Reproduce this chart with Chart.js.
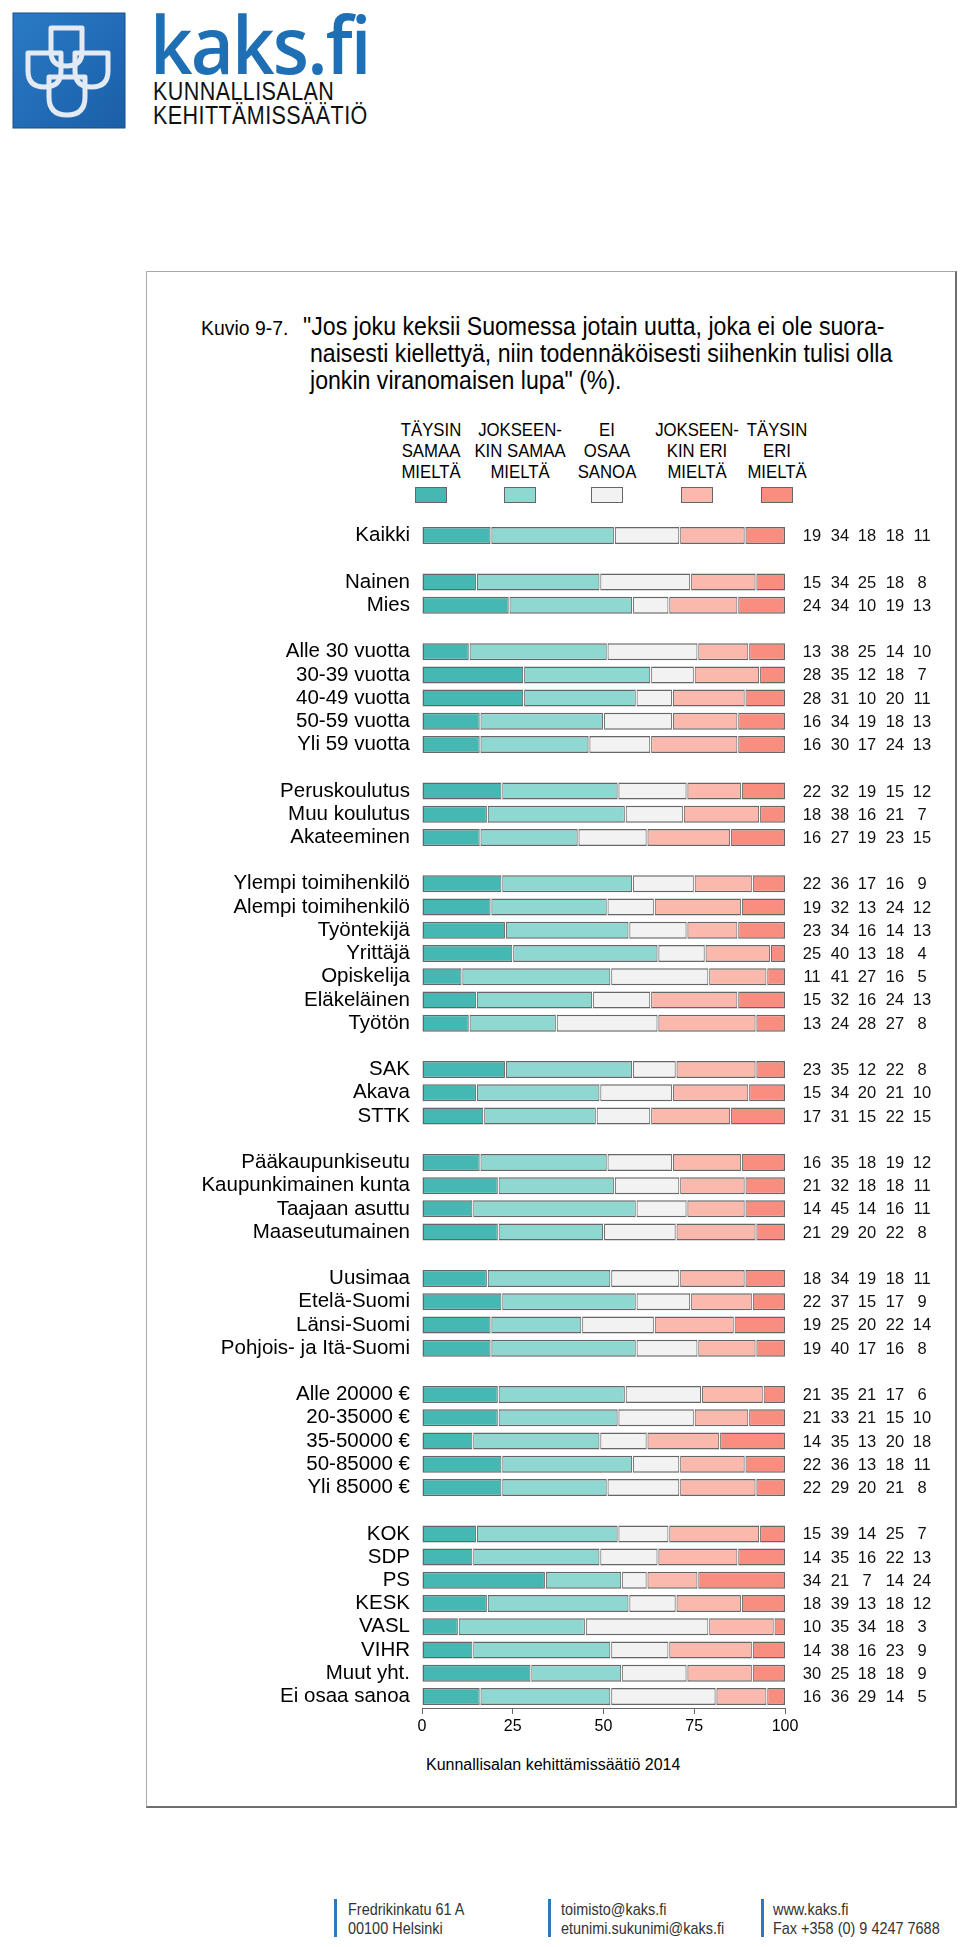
<!DOCTYPE html>
<html>
<head>
<meta charset="utf-8">
<script src="https://cdn.jsdelivr.net/npm/chart.js@4.4.0/dist/chart.umd.min.js"></script>
<style>
  body { margin: 0; width: 960px; height: 1947px; background: #fff; position: relative; overflow: hidden;
         font-family: "Liberation Sans", Arial, sans-serif; color: #000; }
  .abs { position: absolute; white-space: nowrap; }
  .sq { transform-origin: 0 50%; }
  #frame { position: absolute; left: 146px; top: 271px; width: 808px; height: 1534px;
           border: 1px solid #a8a8a8; border-right: 2px solid #6e6e6e; border-bottom: 2px solid #6e6e6e; }
  .title { font-size: 25px; line-height: 25px; transform: scaleX(0.925); }
  .legtxt { width: 120px; text-align: center; font-size: 18px; line-height: 21px; top: 420px;
            transform: scaleX(0.93); transform-origin: 50% 50%; }
  .swatch { width: 30px; height: 14px; top: 487px; border: 1px solid #666; }
  .foot { font-size: 17px; line-height: 19px; color: #333; top: 1900px; transform: scaleX(0.85); }
  .fbar { width: 3px; height: 38px; top: 1899px; background: #2f78b9; }
  #chart { position: absolute; left: 150px; top: 510px; }
</style>
</head>
<body>

<!-- logo -->
<svg class="abs" style="left:0;top:0" width="150" height="140">
  <defs>
    <linearGradient id="lg" x1="0" y1="0" x2="1" y2="1">
      <stop offset="0" stop-color="#2a7bc4"/>
      <stop offset="1" stop-color="#1a5fa8"/>
    </linearGradient>
  </defs>
  <rect x="13" y="13" width="112" height="115" fill="url(#lg)" stroke="#1b4f86" stroke-width="1"/>
  <g fill="none" stroke="#e3eaf3" stroke-width="5" stroke-linejoin="round">
    <path d="M51,28 H82 V52 Q82,66 66.5,66 Q51,66 51,52 Z"/>
    <path d="M28,53 H61 V71 Q61,87 44.5,87 Q28,87 28,71 Z"/>
    <path d="M75,53 H108 V71 Q108,87 91.5,87 Q75,87 75,71 Z"/>
    <path d="M49,77 H85 V97 Q85,115 67,115 Q49,115 49,97 Z"/>
  </g>
</svg>
<div class="abs sq" style="left:150px;top:-12px;font-family:'Open Sans',sans-serif;font-weight:600;font-size:80px;line-height:110px;color:#1f6fb4;letter-spacing:-2px;transform:scaleX(0.93)">kaks.fi</div>
<div class="abs sq" style="left:153px;top:79px;font-size:25px;line-height:24px;color:#111;letter-spacing:0.5px;transform:scaleX(0.86)">KUNNALLISALAN<br>KEHITTÄMISSÄÄTIÖ</div>

<div id="frame"></div>

<!-- title -->
<div class="abs sq" style="left:201px;top:318px;font-size:20px;line-height:20px;transform:scaleX(0.97)">Kuvio 9-7.</div>
<div class="abs sq title" style="left:303px;top:314px">"Jos joku keksii Suomessa jotain uutta, joka ei ole suora-</div>
<div class="abs sq title" style="left:310px;top:341px">naisesti kiellettyä, niin todennäköisesti siihenkin tulisi olla</div>
<div class="abs sq title" style="left:310px;top:368px">jonkin viranomaisen lupa" (%).</div>

<!-- legend -->
<div id="legend"></div>

<canvas id="chart" width="800" height="1238"></canvas>

<div class="abs" style="left:426px;top:1756px;font-size:16px;line-height:18px">Kunnallisalan kehittämissäätiö 2014</div>

<!-- footer -->
<div class="abs fbar" style="left:334px"></div>
<div class="abs fbar" style="left:548px"></div>
<div class="abs fbar" style="left:761px"></div>
<div class="abs sq foot" style="left:348px">Fredrikinkatu 61 A<br>00100 Helsinki</div>
<div class="abs sq foot" style="left:561px">toimisto@kaks.fi<br>etunimi.sukunimi@kaks.fi</div>
<div class="abs sq foot" style="left:773px">www.kaks.fi<br>Fax +358 (0) 9 4247 7688</div>

<script>
// categories, listed group by group
const categories = [
  'Kaikki',
  'Nainen', 'Mies',
  'Alle 30 vuotta', '30-39 vuotta', '40-49 vuotta', '50-59 vuotta', 'Yli 59 vuotta',
  'Peruskoulutus', 'Muu koulutus', 'Akateeminen',
  'Ylempi toimihenkilö', 'Alempi toimihenkilö', 'Työntekijä', 'Yrittäjä', 'Opiskelija', 'Eläkeläinen', 'Työtön',
  'SAK', 'Akava', 'STTK',
  'Pääkaupunkiseutu', 'Kaupunkimainen kunta', 'Taajaan asuttu', 'Maaseutumainen',
  'Uusimaa', 'Etelä-Suomi', 'Länsi-Suomi', 'Pohjois- ja Itä-Suomi',
  'Alle 20000 €', '20-35000 €', '35-50000 €', '50-85000 €', 'Yli 85000 €',
  'KOK', 'SDP', 'PS', 'KESK', 'VASL', 'VIHR', 'Muut yht.', 'Ei osaa sanoa'
];
const groupSizes = [1, 2, 5, 3, 7, 3, 4, 4, 5, 8];

// series values (%)
const taysinSamaa     = [19, 15,24, 13,28,28,16,16, 22,18,16, 22,19,23,25,11,15,13, 23,15,17, 16,21,14,21, 18,22,19,19, 21,21,14,22,22, 15,14,34,18,10,14,30,16];
const jokseenkinSamaa = [34, 34,34, 38,35,31,34,30, 32,38,27, 36,32,34,40,41,32,24, 35,34,31, 35,32,45,29, 34,37,25,40, 35,33,35,36,29, 39,35,21,39,35,38,25,36];
const eiOsaa          = [18, 25,10, 25,12,10,19,17, 19,16,19, 17,13,16,13,27,16,28, 12,20,15, 18,18,14,20, 19,15,20,17, 21,21,13,13,20, 14,16, 7,13,34,16,18,29];
const jokseenkinEri   = [18, 18,19, 14,18,20,18,24, 15,21,23, 16,24,14,18,16,24,27, 22,21,22, 19,18,16,22, 18,17,22,16, 17,15,20,18,21, 25,22,14,18,18,23,18,14];
const taysinEri       = [11,  8,13, 10, 7,11,13,13, 12, 7,15,  9,12,13, 4, 5,13, 8,  8,10,15, 12,11,11, 8, 11, 9,14, 8,  6,10,18,11, 8,  7,13,24,12, 3, 9, 9, 5];

const seriesNames = ['TÄYSIN SAMAA MIELTÄ', 'JOKSEENKIN SAMAA MIELTÄ', 'EI OSAA SANOA', 'JOKSEENKIN ERI MIELTÄ', 'TÄYSIN ERI MIELTÄ'];
const legendLines = [
  ['TÄYSIN', 'SAMAA', 'MIELTÄ'],
  ['JOKSEEN-', 'KIN SAMAA', 'MIELTÄ'],
  ['EI', 'OSAA', 'SANOA'],
  ['JOKSEEN-', 'KIN ERI', 'MIELTÄ'],
  ['TÄYSIN', 'ERI', 'MIELTÄ']
];
const xTicks = [0, 25, 50, 75, 100];

const colors = ['#46b8b3', '#8fd8d2', '#f2f2f2', '#fbb9ae', '#f98e80'];
const legendCenters = [431, 520, 607, 697, 777];
const valueOffsets = [27, 55, 82, 110, 137];   // value columns, px right of the plot

// insert an empty row between groups
function pad(arr, blank) {
  const out = [];
  let i = 0;
  groupSizes.forEach((n, g) => {
    if (g > 0) out.push(blank);
    for (let k = 0; k < n; k++) out.push(arr[i++]);
  });
  return out;
}

// legend (html)
const legend = document.getElementById('legend');
legendLines.forEach((lines, i) => {
  const t = document.createElement('div');
  t.className = 'abs legtxt';
  t.style.left = (legendCenters[i] - 60) + 'px';
  t.innerHTML = lines.join('<br>');
  legend.appendChild(t);
  const s = document.createElement('div');
  s.className = 'abs swatch';
  s.style.left = (legendCenters[i] - 16) + 'px';
  s.style.background = colors[i];
  legend.appendChild(s);
});

const allSeries = [taysinSamaa, jokseenkinSamaa, eiOsaa, jokseenkinEri, taysinEri];

// white seam between touching segments
const seams = {
  id: 'seams',
  afterDatasetsDraw(chart) {
    const ctx = chart.ctx;
    ctx.save();
    ctx.fillStyle = '#fff';
    for (let d = 1; d < chart.data.datasets.length; d++) {
      chart.getDatasetMeta(d).data.forEach((bar, i) => {
        if (chart.data.datasets[d].data[i] == null) return;
        const p = bar.getProps(['base', 'y', 'height'], true);
        ctx.fillRect(p.base - 0.6, p.y - p.height / 2, 1.2, p.height);
      });
    }
    ctx.restore();
  }
};

// numbers column on the right
const valueText = {
  id: 'valueText',
  afterDraw(chart) {
    const ctx = chart.ctx;
    const yScale = chart.scales.y;
    const right = chart.chartArea.right;
    ctx.save();
    ctx.font = '16.5px "Liberation Sans", Arial, sans-serif';
    ctx.fillStyle = '#111';
    ctx.textAlign = 'center';
    ctx.textBaseline = 'middle';
    chart.data.datasets.forEach((ds, d) => {
      ds.data.forEach((v, i) => {
        if (v == null) return;
        ctx.fillText(String(v), right + valueOffsets[d], yScale.getPixelForValue(i) + 1);
      });
    });
    ctx.restore();
  }
};

new Chart(document.getElementById('chart').getContext('2d'), {
  type: 'bar',
  data: {
    labels: pad(categories, ''),
    datasets: allSeries.map((vals, d) => ({
      label: seriesNames[d],
      data: pad(vals, null),
      backgroundColor: colors[d],
      borderColor: '#666',
      borderWidth: 1.5,
      borderSkipped: false,
      barThickness: 17,
      inflateAmount: 0
    }))
  },
  options: {
    indexAxis: 'y',
    responsive: false,
    animation: false,
    events: [],
    layout: { padding: { top: 14, right: 165, left: 0, bottom: 0 } },
    plugins: { legend: { display: false }, tooltip: { enabled: false } },
    scales: {
      x: {
        stacked: true,
        min: 0,
        max: 100,
        afterBuildTicks: axis => { axis.ticks = xTicks.map(v => ({ value: v })); },
        afterFit: axis => { axis.height = 40; },
        grid: { drawOnChartArea: false, drawTicks: true, tickLength: 6, color: '#666' },
        border: { display: true, color: '#666', width: 1 },
        ticks: { font: { size: 16, family: '"Liberation Sans", Arial, sans-serif' }, color: '#000', padding: 3 }
      },
      y: {
        stacked: true,
        afterFit: axis => { axis.width = 272; axis.paddingTop = 0; axis.paddingBottom = 0; },
        grid: { display: false, drawTicks: false },
        border: { display: false },
        ticks: { autoSkip: false, font: { size: 20.5, family: '"Liberation Sans", Arial, sans-serif' }, color: '#000', padding: 12 }
      }
    }
  },
  plugins: [seams, valueText]
});
</script>
</body>
</html>
